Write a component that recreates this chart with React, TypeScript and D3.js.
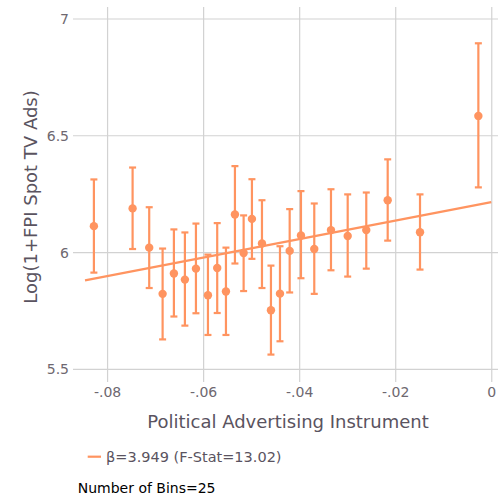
import React from "react";
import * as d3 from "d3";

const binX = [
  -0.08285, -0.07479, -0.07133, -0.06854, -0.06619, -0.0639, -0.0616, -0.0591, -0.05717,
  -0.05535, -0.05348, -0.05167, -0.04994, -0.04785, -0.04598, -0.0441, -0.04208, -0.03973,
  -0.03696, -0.03348, -0.03, -0.02613, -0.02167, -0.01494, -0.00279,
];
const binY = [
  6.113, 6.189, 6.021, 5.823, 5.91, 5.884, 5.931, 5.817, 5.934, 5.833, 6.163, 5.998, 6.144,
  6.039, 5.753, 5.824, 6.007, 6.073, 6.015, 6.096, 6.071, 6.096, 6.224, 6.087, 6.585,
];
const binHi = [
  6.313, 6.364, 6.194, 6.017, 6.099, 6.086, 6.124, 5.991, 6.126, 6.021, 6.37, 6.159, 6.314,
  6.224, 5.944, 6.027, 6.186, 6.263, 6.21, 6.271, 6.249, 6.257, 6.399, 6.249, 6.896,
];
const binLo = [
  5.914, 6.015, 5.848, 5.628, 5.726, 5.687, 5.74, 5.647, 5.741, 5.647, 5.953, 5.835, 5.973,
  5.848, 5.563, 5.62, 5.829, 5.89, 5.823, 5.924, 5.897, 5.931, 6.051, 5.927, 6.279,
];
const fitX = [-0.0847, -0.0001];
const fitY = [5.881, 6.2157];
const xTicks = [-0.08, -0.06, -0.04, -0.02, 0];
const yTicks = [5.5, 6, 6.5, 7];
const legendLabel = "β=3.949 (F-Stat=13.02)";
const xTitle = "Political Advertising Instrument";
const yTitle = "Log(1+FPI Spot TV Ads)";
const noteText = "Number of Bins=25";

const W = 498;
const H = 497;
const left = 73;
const right = 498;
const top = 7;
const bottom = 382;
const ORANGE = "#ff9460";
const GRID = "#d2d2d2";
const FONT = "DejaVu Sans, sans-serif";

export default function App() {
  const x = d3.scaleLinear().domain([-0.0872, 0.0013]).range([left, right]);
  const y = d3.scaleLinear().domain([5.4456, 7.0514]).range([bottom, top]);
  const fmtX = (v: number) => (v === 0 ? "0" : v.toFixed(2).replace("0.", "."));
  const fitLine = d3
    .line<number>()
    .x((d) => x(d))
    .y((_, i) => y(fitY[i]));

  return (
    <svg
      width={W}
      height={H}
      style={{ position: "absolute", left: 0, top: 0, background: "#fff" }}
      fontFamily={FONT}
    >
      {xTicks.map((t) => (
        <line key={"gx" + t} x1={x(t)} x2={x(t)} y1={top} y2={bottom} stroke={GRID} strokeWidth={1.2} />
      ))}
      {yTicks.map((t) => (
        <line key={"gy" + t} x1={left} x2={right} y1={y(t)} y2={y(t)} stroke={GRID} strokeWidth={1.2} />
      ))}
      {xTicks.map((t) => (
        <text key={"tx" + t} x={x(t)} y={396.5} textAnchor="middle" fontSize={14} fill="#6e6870">
          {fmtX(t)}
        </text>
      ))}
      {yTicks.map((t) => (
        <text key={"ty" + t} x={69} y={y(t) + 5} textAnchor="end" fontSize={14} fill="#6e6870">
          {String(t)}
        </text>
      ))}
      <text x={288} y={428} textAnchor="middle" fontSize={18} fill="#5a5360">
        {xTitle}
      </text>
      <text
        transform={`translate(37,197) rotate(-90)`}
        textAnchor="middle"
        fontSize={18}
        fill="#5a5360"
      >
        {yTitle}
      </text>
      <path d={fitLine(fitX) || ""} fill="none" stroke={ORANGE} strokeWidth={2.2} />
      {binX.map((bx, i) => {
        const cx = x(bx);
        return (
          <g key={"b" + i} stroke={ORANGE} strokeWidth={2.2}>
            <line x1={cx} x2={cx} y1={y(binLo[i])} y2={y(binHi[i])} />
            <line x1={cx - 3.5} x2={cx + 3.5} y1={y(binLo[i])} y2={y(binLo[i])} />
            <line x1={cx - 3.5} x2={cx + 3.5} y1={y(binHi[i])} y2={y(binHi[i])} />
            <circle cx={cx} cy={y(binY[i])} r={4.2} fill={ORANGE} stroke="none" />
          </g>
        );
      })}
      <line x1={87.7} x2={101} y1={456.7} y2={456.7} stroke={ORANGE} strokeWidth={2.2} />
      <text x={106} y={462} fontSize={14.5} fill="#5a5360">
        {legendLabel}
      </text>
      <text x={77.7} y={493} fontSize={14} fill="#000">
        {noteText}
      </text>
    </svg>
  );
}
